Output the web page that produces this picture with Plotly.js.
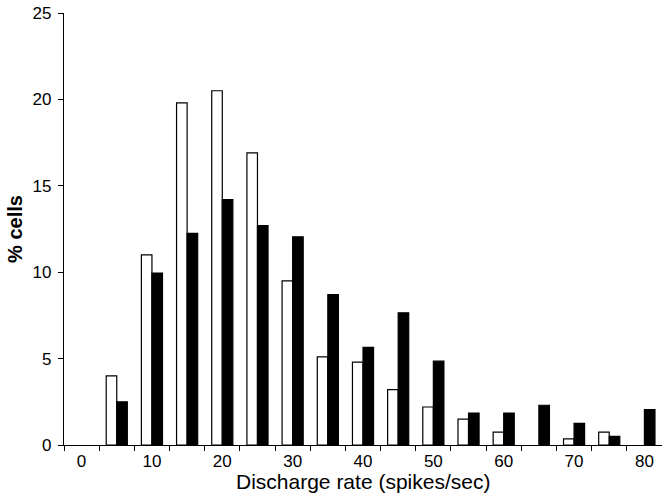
<!DOCTYPE html>
<html>
<head>
<meta charset="utf-8">
<script src="https://cdn.plot.ly/plotly-3.0.1.min.js"></script>
<style>
  html, body { margin: 0; padding: 0; background: #ffffff; }
  #chart { width: 662px; height: 498px; }
</style>
</head>
<body>
<div id="chart"></div>
<script>
// Discharge rate bins (spikes/sec)
const rateBins = [0, 5, 10, 15, 20, 25, 30, 35, 40, 45, 50, 55, 60, 65, 70, 75, 80];
// % cells, open bars
const openBars = [0, 4.0, 11.0, 19.8, 20.5, 16.9, 9.5, 5.1, 4.8, 3.2, 2.2, 1.5, 0.75, 0, 0.35, 0.75, 0];
// % cells, filled bars
const filledBars = [0, 2.5, 9.95, 12.25, 14.2, 12.7, 12.05, 8.7, 5.65, 7.65, 4.85, 1.85, 1.85, 2.3, 1.25, 0.5, 2.05];
// axis tick labels
const xTickVals = [0, 10, 20, 30, 40, 50, 60, 70, 80];
const xTickText = ['0', '10', '20', '30', '40', '50', '60', '70', '80'];
const yTickVals = [0, 5, 10, 15, 20, 25];
const yTickText = ['0', '5', '10', '15', '20', '25'];
const xTitle = 'Discharge rate (spikes/sec)';
const yTitle = '% cells';

const FONT = 'Liberation Sans, Arial, sans-serif';

// outline only drawn for non-empty bars
const outline = vals => vals.map(v => (v > 0 ? 1.2 : 0));

const traces = [
  {
    type: 'bar',
    x: rateBins,
    y: openBars,
    marker: { color: '#ffffff', line: { color: '#000000', width: outline(openBars) } },
    showlegend: false,
    hoverinfo: 'x+y'
  },
  {
    type: 'bar',
    x: rateBins,
    y: filledBars,
    marker: { color: '#000000', line: { color: '#000000', width: outline(filledBars) } },
    showlegend: false,
    hoverinfo: 'x+y'
  }
];

const layout = {
  width: 662,
  height: 498,
  margin: { l: 64, r: 0, t: 13, b: 53 },
  paper_bgcolor: '#ffffff',
  plot_bgcolor: '#ffffff',
  barmode: 'group',
  bargap: 0.4,
  bargroupgap: 0,
  font: { family: FONT, color: '#000000' },
  xaxis: {
    range: [-2.5, 82.5],
    tickmode: 'array',
    tickvals: xTickVals,
    ticktext: xTickText,
    ticks: '',
    ticklabelstandoff: 0,
    tickfont: { family: FONT, size: 17, color: '#000000' },
    showline: true,
    linecolor: '#000000',
    linewidth: 1.2,
    showgrid: false,
    zeroline: false,
    minor: { tick0: 2.5, dtick: 5, ticks: 'outside', ticklen: 5, tickwidth: 1, tickcolor: '#000000', showgrid: false },
    fixedrange: true
  },
  yaxis: {
    range: [0, 25],
    tickmode: 'array',
    tickvals: yTickVals,
    ticktext: yTickText,
    ticks: 'outside',
    ticklen: 5,
    tickwidth: 1,
    tickcolor: '#000000',
    ticklabelstandoff: 3,
    tickfont: { family: FONT, size: 17, color: '#000000' },
    showline: true,
    linecolor: '#000000',
    linewidth: 1.2,
    showgrid: false,
    zeroline: false,
    title: { text: '<b>' + yTitle + '</b>', font: { family: FONT, size: 20, color: '#000000' }, standoff: 4 },
    fixedrange: true
  },
  annotations: [
    {
      text: xTitle,
      xref: 'paper', yref: 'paper',
      x: 0.5, y: 0,
      xanchor: 'center', yanchor: 'top',
      yshift: -23,
      showarrow: false,
      font: { family: FONT, size: 21, color: '#000000' }
    }
  ]
};

Plotly.newPlot('chart', traces, layout, { displayModeBar: false, staticPlot: true });
</script>
</body>
</html>
